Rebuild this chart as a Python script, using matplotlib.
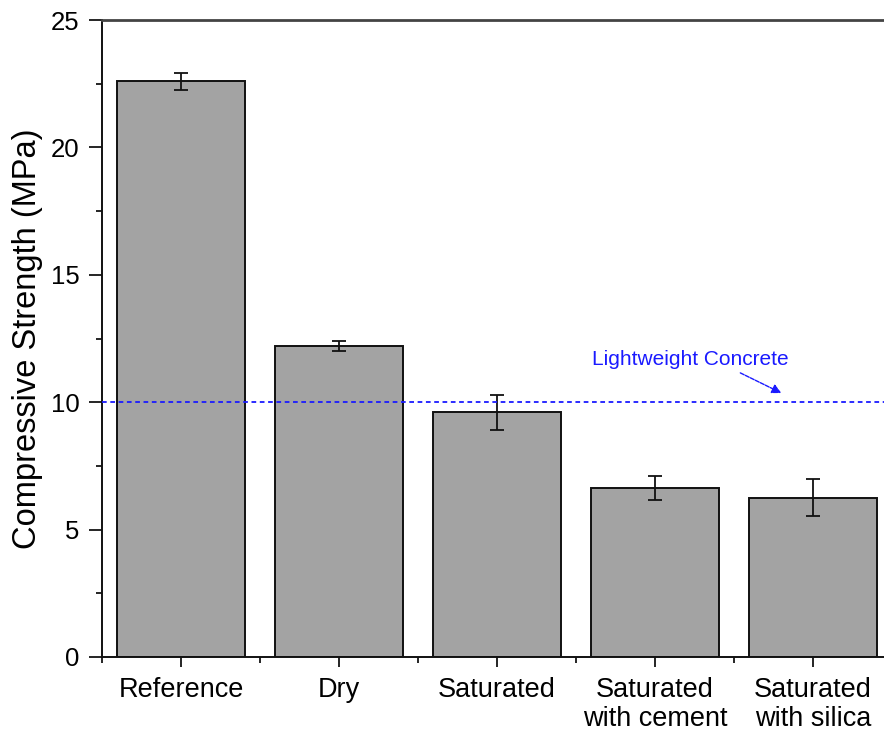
import matplotlib
matplotlib.use("Agg")
import matplotlib.pyplot as plt
from matplotlib.ticker import MultipleLocator, FixedLocator

plt.rcParams['font.family'] = ['Liberation Sans', 'DejaVu Sans']

categories = ["Reference", "Dry", "Saturated", "Saturated\nwith cement", "Saturated\nwith silica"]
strength = [22.6, 12.2, 9.6, 6.65, 6.25]
strength_err = [0.33, 0.2, 0.68, 0.47, 0.72]
threshold = 10.0
threshold_label = "Lightweight Concrete"

fig = plt.figure(figsize=(8.84, 7.35), dpi=100)
# axes runs past the right edge of the canvas, so its right spine is cut off
ax = fig.add_axes([102 / 884, 78 / 735, 790 / 884, 637 / 735])

x = list(range(1, len(categories) + 1))
ax.bar(x, strength, width=0.805, color="#a3a3a3", edgecolor="#111111", linewidth=1.4, zorder=2)
ax.errorbar(x, strength, yerr=strength_err, fmt="none", ecolor="#111111",
            elinewidth=1.3, capsize=5, capthick=1.3, zorder=3)

ax.axhline(threshold, color="#1a1aff", linestyle=(0, (2.6, 2.0)), linewidth=1.3, zorder=4)
ax.annotate("", xy=(4.80, 10.36), xytext=(4.54, 11.15),
            arrowprops=dict(arrowstyle="-|>", color="#1a1aff", lw=1.0,
                            linestyle=(0, (3, 1)), mutation_scale=14, shrinkA=0, shrinkB=0))
ax.text(4.225, 11.66, threshold_label, color="#1a1aff", fontsize=15, ha="center", va="center")

ax.set_xlim(0.5, 5.5)
ax.set_ylim(0, 25)
ax.set_xticks(x)
ax.set_xticklabels(categories, fontsize=19.5, linespacing=1.12)
ax.xaxis.set_minor_locator(FixedLocator([0.5, 1.5, 2.5, 3.5, 4.5]))
ax.yaxis.set_major_locator(MultipleLocator(5))
ax.yaxis.set_minor_locator(MultipleLocator(2.5))
ax.tick_params(axis="y", which="major", length=9.5, width=1.2, labelsize=18.5, pad=6.5, direction="out")
ax.tick_params(axis="y", which="minor", length=4, width=1.2, direction="out")
ax.tick_params(axis="x", which="major", length=7.5, width=1.2, pad=7, direction="out")
ax.tick_params(axis="x", which="minor", length=4.5, width=1.2, direction="out")

ax.set_ylabel("Compressive Strength (MPa)", fontsize=23.5, labelpad=6)

for side in ("left", "bottom"):
    ax.spines[side].set_linewidth(1.4)
    ax.spines[side].set_color("#111111")
ax.spines["top"].set_linewidth(2.0)
ax.spines["top"].set_color("#444444")
ax.spines["right"].set_visible(False)

fig.savefig("out.png", dpi=100)
